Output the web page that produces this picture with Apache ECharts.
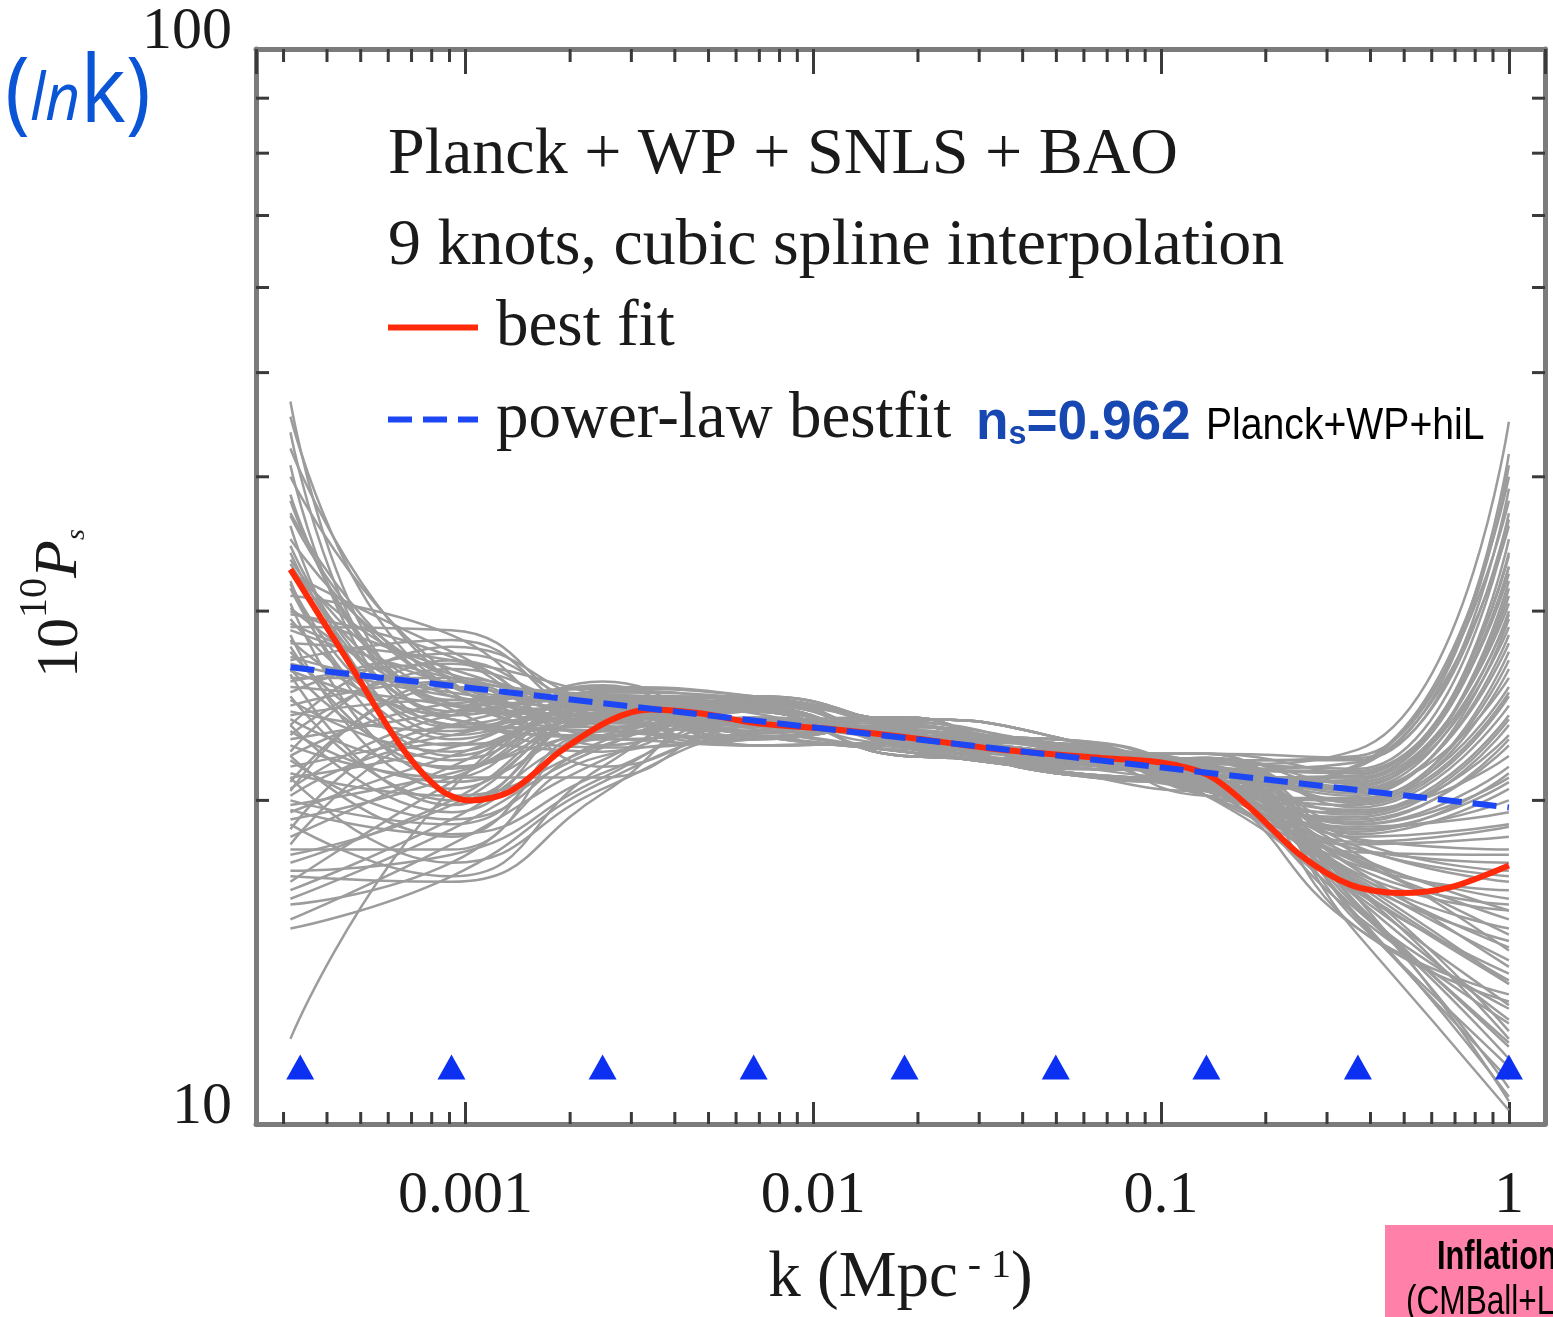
<!DOCTYPE html>
<html>
<head>
<meta charset="utf-8">
<title>Primordial power spectrum, 9 knots</title>
<script src="https://cdn.jsdelivr.net/npm/echarts@6/dist/echarts.min.js"></script>
<style>
  html, body { margin: 0; padding: 0; background: #fff; }
  #chart { width: 1553px; height: 1317px; }
</style>
</head>
<body>
<div id="chart"></div>
<script>
// knots at k = e^-8 ... e^0 (Mpc^-1)
const knotK = [3.35e-4, 9.12e-4, 2.48e-3, 6.74e-3, 1.83e-2, 4.98e-2, 0.135, 0.368, 1.0];
// the sample curves start a little left of the first knot
const curveK = [3.14e-4, 9.12e-4, 2.48e-3, 6.74e-3, 1.83e-2, 4.98e-2, 0.135, 0.368, 1.0];
const knotMarkerP = 11.3;

// 10^10 P_s of the grey samples, read at the knots
const sampleCurves = [
  [47, 24.5, 24.8, 24.6, 23.6, 22.4, 21.6, 19.5, 24],
  [45.5, 25.5, 24.2, 23.0, 22.2, 21.3, 20.4, 16.5, 13.5],
  [44, 24.0, 25.2, 24.9, 23.0, 22.8, 21.0, 20.5, 30],
  [42.5, 25.8, 23.6, 23.5, 23.9, 21.6, 21.9, 16.2, 12.5],
  [41, 23.5, 24.6, 22.5, 22.6, 22.2, 20.6, 21.5, 36],
  [40, 26.2, 24.0, 24.2, 22.0, 21.8, 21.4, 18.0, 17.5],
  [38.5, 24.8, 25.4, 25.0, 23.3, 21.2, 20.8, 19.0, 21],
  [37, 25.2, 23.4, 23.8, 22.9, 22.6, 20.2, 15.8, 11.5],
  [36, 23.0, 24.3, 22.8, 23.5, 22.0, 21.8, 22.0, 42],
  [35, 26.0, 24.7, 24.4, 22.4, 21.5, 21.2, 18.5, 19],
  [34, 24.2, 25.0, 23.2, 23.8, 22.9, 20.5, 17.5, 15.5],
  [33.5, 25.0, 24.0, 24.7, 22.8, 22.1, 22.1, 21.2, 33],
  [32.5, 27.5, 24.0, 24.6, 23.6, 22.4, 21.6, 20.0, 27],
  [32, 22.0, 24.5, 23.0, 22.2, 21.3, 20.4, 16.8, 13.5],
  [31, 28.5, 23.6, 24.9, 23.0, 22.8, 21.0, 21.0, 33],
  [30.5, 21.0, 24.8, 23.5, 23.9, 21.6, 21.9, 17.3, 16],
  [30, 26.5, 24.2, 22.5, 22.6, 22.2, 20.6, 19.8, 25],
  [29.5, 23.5, 23.0, 24.2, 22.0, 21.8, 21.4, 16.0, 10.8],
  [29, 28.8, 24.5, 25.0, 23.3, 21.2, 20.8, 20.8, 31],
  [28.5, 20.5, 23.8, 23.8, 22.9, 22.6, 20.2, 18.2, 18.5],
  [28, 27.0, 25.0, 22.8, 23.5, 22.0, 21.8, 21.8, 39],
  [27.5, 22.5, 24.0, 24.4, 22.4, 21.5, 21.2, 15.2, 13],
  [27, 28.2, 23.8, 23.2, 23.8, 22.9, 20.5, 19.2, 22.5],
  [26.5, 21.8, 24.6, 24.7, 22.8, 22.1, 22.1, 15.5, 11],
  [26, 26.0, 24.4, 24.6, 23.6, 22.4, 21.6, 20.3, 28.5],
  [25.5, 24.5, 22.8, 23.0, 22.2, 21.3, 20.4, 18.8, 20],
  [25, 20.0, 24.2, 24.9, 23.0, 22.8, 21.0, 17.8, 14.5],
  [24.5, 25.8, 21.5, 23.5, 23.9, 21.6, 21.9, 20.5, 26],
  [24, 24.8, 23.5, 22.5, 22.6, 22.2, 20.6, 16.5, 12],
  [23.5, 19.5, 24.0, 24.2, 22.0, 21.8, 21.4, 21.2, 34],
  [23, 26.5, 24.6, 25.0, 23.3, 21.2, 20.8, 17.6, 15],
  [22.5, 21.0, 21.0, 23.8, 22.9, 22.6, 20.2, 19.5, 23],
  [22, 18.5, 23.2, 22.8, 23.5, 22.0, 21.8, 16.2, 10.5],
  [21.5, 23.0, 24.3, 24.4, 22.4, 21.5, 21.2, 20.2, 29.5],
  [21, 17.5, 20.5, 23.2, 23.8, 22.9, 20.5, 18.0, 17],
  [20.5, 24.0, 24.8, 24.7, 22.8, 22.1, 22.1, 19.0, 21.5],
  [20, 19.0, 23.5, 24.6, 23.6, 22.4, 21.6, 15.0, 10.3],
  [19.5, 22.0, 24.0, 23.0, 22.2, 21.3, 20.4, 21.5, 38],
  [19, 17.0, 21.5, 24.9, 23.0, 22.8, 21.0, 17.2, 14],
  [18.5, 21.5, 24.4, 23.5, 23.9, 21.6, 21.9, 19.7, 24.5],
  [18, 18.0, 22.8, 22.5, 22.6, 22.2, 20.6, 15.2, 13.2],
  [17.5, 20.0, 24.0, 24.2, 22.0, 21.8, 21.4, 20.6, 32],
  [17, 16.8, 20.3, 25.0, 23.3, 21.2, 20.8, 18.4, 18],
  [16.5, 19.2, 23.0, 23.8, 22.9, 22.6, 20.2, 19.3, 23.5],
  [16, 17.5, 22.0, 22.8, 23.5, 22.0, 21.8, 15.8, 12.8],
  [15.5, 18.2, 21.8, 24.4, 22.4, 21.5, 21.2, 16.8, 14.8],
  [15.2, 17.0, 20.8, 23.2, 23.8, 22.9, 20.5, 20.0, 27.5],
  [12, 20.5, 24.2, 24.7, 22.8, 22.1, 22.1, 18.6, 20.5],
  [26.8, 25.0, 24.0, 24.6, 23.6, 22.4, 21.6, 22.3, 45],
  [23.5, 27.8, 24.5, 23.0, 22.2, 21.3, 20.4, 17.4, 16.5],
  [31.5, 22.8, 24.9, 24.9, 23.0, 22.8, 21.0, 21.0, 35],
  [20.8, 25.5, 23.8, 23.5, 23.9, 21.6, 21.9, 16.0, 11.8],
  [28.2, 24.0, 25.6, 22.5, 22.6, 22.2, 20.6, 21.6, 40],
  [25.8, 26.8, 22.5, 24.2, 22.0, 21.8, 21.4, 17.0, 15.2],
  [22.8, 24.2, 25.5, 25.0, 23.3, 21.2, 20.8, 20.9, 30.5],
  [19.8, 21.2, 23.2, 23.8, 22.9, 22.6, 20.2, 16.6, 12.2],
  [34.5, 23.8, 23.2, 22.8, 23.5, 22.0, 21.8, 19.9, 26.5],
  [29.8, 27.2, 23.0, 24.4, 22.4, 21.5, 21.2, 15.6, 10.6],
  [24.2, 23.2, 25.8, 23.2, 23.8, 22.9, 20.5, 18.9, 19.5],
  [18.2, 23.5, 24.5, 24.7, 22.8, 22.1, 22.1, 21.9, 37],
  [21.2, 20.2, 22.5, 24.6, 23.6, 22.4, 21.6, 18.1, 16.8],
  [27.2, 25.2, 24.6, 23.0, 22.2, 21.3, 20.4, 17.9, 17.8],
  [32.8, 26.2, 25.1, 24.9, 23.0, 22.8, 21.0, 19.6, 22],
  [23.8, 21.5, 23.6, 23.5, 23.9, 21.6, 21.9, 20.7, 29],
  [16.8, 20.8, 24.6, 22.5, 22.6, 22.2, 20.6, 17.7, 15.8],
  [38, 24.6, 24.0, 24.2, 22.0, 21.8, 21.4, 21.3, 32.5],
  [20.2, 22.6, 22.2, 25.0, 23.3, 21.2, 20.8, 16.4, 13.8],
  [26.2, 19.8, 23.9, 23.8, 22.9, 22.6, 20.2, 20.1, 25.5],
  [30.2, 24.3, 22.4, 22.8, 23.5, 22.0, 21.8, 18.3, 17.2],
  [22.2, 27.0, 24.1, 24.4, 22.4, 21.5, 21.2, 15.4, 11.3],
  [31.8, 23.4, 24.3, 23.6, 23.2, 22.3, 20.9, 18.7, 21.2],
  [29.2, 25.6, 23.7, 24.3, 22.5, 21.7, 21.5, 20.4, 28],
  [27.8, 21.4, 24.9, 23.1, 23.4, 22.5, 20.7, 16.9, 14.2],
  [26.4, 23.8, 22.9, 24.8, 22.7, 22.0, 21.7, 21.4, 36.5],
  [25.2, 27.4, 24.3, 23.4, 23.1, 21.4, 21.3, 17.1, 15.8],
  [24.8, 22.2, 25.3, 24.5, 22.3, 22.3, 20.8, 19.4, 23.8],
  [23.2, 20.8, 23.3, 23.7, 23.7, 21.9, 21.5, 15.9, 11.9],
  [22.0, 24.6, 25.0, 24.1, 22.6, 22.6, 20.9, 20.6, 31.5],
  [21.8, 19.2, 22.7, 24.8, 23.2, 21.7, 21.1, 18.3, 18.9],
  [21.0, 22.4, 24.7, 22.9, 23.4, 22.4, 21.6, 16.7, 13.6],
  [20.4, 25.8, 23.4, 24.3, 22.6, 21.6, 21.0, 21.1, 33.8],
  [19.6, 18.6, 21.2, 23.6, 23.3, 22.5, 20.8, 17.6, 16.2],
  [19.2, 21.0, 24.1, 24.6, 22.7, 21.9, 21.7, 19.9, 25.2],
  [18.8, 23.4, 23.2, 23.4, 23.6, 22.3, 20.6, 15.6, 12.4],
  [17.8, 19.8, 23.9, 24.2, 22.5, 21.7, 21.3, 20.8, 29.8],
  [17.2, 17.8, 21.0, 23.9, 23.2, 22.6, 21.0, 17.0, 14.6],
  [16.2, 18.8, 22.4, 24.5, 22.9, 21.6, 21.5, 18.8, 20.8],
  [28.8, 26.0, 24.9, 23.3, 22.4, 22.2, 20.7, 19.1, 22.8],
  [33.2, 24.6, 23.8, 24.8, 23.4, 21.9, 21.4, 21.7, 41],
  [36.8, 25.6, 24.6, 23.7, 22.8, 22.5, 20.9, 16.3, 12.9]
];

// best fit (red)
const bestFitK = [3.14e-4, 4.68e-4, 6.50e-4, 8.48e-4, 1.03e-3, 1.35e-3, 1.87e-3, 2.61e-3, 3.40e-3,
  4.73e-3, 6.81e-3, 1.12e-2, 1.85e-2, 3.44e-2, 6.68e-2, 9.93e-2, 0.137, 0.180, 0.251, 0.349,
  0.486, 0.676, 1.0];
const bestFitP = [32.8, 26.7, 22.5, 20.45, 20.0, 20.4, 22.2, 23.75, 24.3,
  24.1, 23.6, 23.3, 22.9, 22.3, 21.9, 21.7, 21.1, 19.7, 17.8, 16.7,
  16.4, 16.6, 17.4];

// power-law best fit (blue dashed), n_s = 0.962
const powerLawK = [3.14e-4, 1.0];
const powerLawP = [26.6, 19.7];

const xRange = [2.5e-4, 1.27];
const yRange = [10, 100];
const xMinorTicks = [3e-4, 4e-4, 5e-4, 6e-4, 7e-4, 8e-4, 9e-4,
  2e-3, 3e-3, 4e-3, 5e-3, 6e-3, 7e-3, 8e-3, 9e-3,
  2e-2, 3e-2, 4e-2, 5e-2, 6e-2, 7e-2, 8e-2, 9e-2,
  0.2, 0.3, 0.4, 0.5, 0.6, 0.7, 0.8, 0.9];
const yMinorTicks = [20, 30, 40, 50, 60, 70, 80, 90];

const serif = 'Liberation Serif, Times New Roman, serif';
const sans = 'Liberation Sans, Arial, sans-serif';
const frameColor = '#7b7b7b';
const tickColor = '#3a3a3a';
const grey = '#9c9c9c';
const red = '#ff2a0a';
const blue = '#1d46f5';

const chart = echarts.init(document.getElementById('chart'));

const series = [];
sampleCurves.forEach((c, i) => {
  series.push({
    type: 'line',
    name: 'sample' + i,
    data: curveK.map((k, j) => [k, c[j]]),
    smooth: 0.5,
    symbol: 'none',
    silent: true,
    lineStyle: { color: grey, width: 2.5 },
    z: 2
  });
});

series.push({
  type: 'line',
  name: 'best fit',
  data: bestFitK.map((k, i) => [k, bestFitP[i]]),
  smooth: 0.3,
  symbol: 'none',
  lineStyle: { color: red, width: 6 },
  itemStyle: { color: red },
  z: 3
});

series.push({
  type: 'line',
  name: 'power-law bestfit',
  data: powerLawK.map((k, i) => [k, powerLawP[i]]),
  symbol: 'none',
  lineStyle: { color: blue, width: 6, type: [24, 11] },
  itemStyle: { color: blue },
  z: 4
});

series.push({
  type: 'scatter',
  data: knotK.map(k => [k, knotMarkerP]),
  symbol: 'triangle',
  symbolSize: [28, 25],
  itemStyle: { color: '#0b30f2', opacity: 1 },
  silent: true,
  z: 5
});

// minor ticks on the four sides of the frame
const tickSeries = (data, size, offset) => ({
  type: 'scatter',
  data: data,
  symbol: 'rect',
  symbolSize: size,
  symbolOffset: offset,
  itemStyle: { color: tickColor, opacity: 1 },
  clip: false,
  silent: true,
  z: 6
});
series.push(tickSeries(xMinorTicks.map(k => [k, yRange[0]]), [3, 12], [0, -6]));
series.push(tickSeries(xMinorTicks.map(k => [k, yRange[1]]), [3, 13], [0, 6.5]));
series.push(tickSeries(yMinorTicks.map(v => [xRange[0], v]), [13, 3], [6.5, 0]));
series.push(tickSeries(yMinorTicks.map(v => [xRange[1], v]), [13, 3], [-6.5, 0]));

const option = {
  animation: false,
  backgroundColor: '#fff',
  grid: { left: 256, right: 8, top: 49, bottom: 193 },
  legend: {
    data: ['best fit', 'power-law bestfit'],
    orient: 'vertical',
    left: 380,
    top: 290,
    itemWidth: 90,
    itemHeight: 20,
    itemGap: 27,
    selectedMode: false,
    itemStyle: { opacity: 0 },
    lineStyle: { width: 6 },
    textStyle: { fontFamily: serif, fontSize: 65, color: '#1a1a1a', lineHeight: 64, padding: [0, 0, 0, 13] }
  },
  xAxis: [
    {
      type: 'log',
      min: xRange[0],
      max: xRange[1],
      axisLine: { onZero: false, lineStyle: { color: frameColor, width: 5 } },
      axisTick: { inside: true, length: 22, lineStyle: { color: tickColor, width: 3 } },
      axisLabel: {
        fontFamily: serif, fontSize: 60, color: '#1a1a1a', margin: 42,
        showMinLabel: false, showMaxLabel: false
      },
      splitLine: { show: false },
      name: '{a|k (Mpc}{b| - 1}{a|)}',
      nameLocation: 'middle',
      nameGap: 122,
      nameTextStyle: {
        rich: {
          a: { fontFamily: serif, fontSize: 65, color: '#1a1a1a', verticalAlign: 'bottom' },
          b: { fontFamily: serif, fontSize: 40, color: '#1a1a1a', verticalAlign: 'top' }
        }
      }
    },
    {
      type: 'log',
      position: 'top',
      min: xRange[0],
      max: xRange[1],
      axisLine: { onZero: false, lineStyle: { color: frameColor, width: 5 } },
      axisTick: { inside: true, length: 25, lineStyle: { color: tickColor, width: 3 } },
      axisLabel: { show: false },
      splitLine: { show: false }
    }
  ],
  yAxis: [
    {
      type: 'log',
      min: yRange[0],
      max: yRange[1],
      axisLine: { lineStyle: { color: frameColor, width: 5 } },
      axisTick: { show: false },
      axisLabel: {
        fontFamily: serif, fontSize: 60, color: '#1a1a1a', margin: 24,
        verticalAlign: 'bottom', lineHeight: 34
      },
      splitLine: { show: false },
      name: '{a|10}{b|10}{c|P}{d|s}',
      nameLocation: 'middle',
      nameRotate: 90,
      nameGap: 165,
      nameTextStyle: {
        padding: [0, 34, 0, 0],
        rich: {
          a: { fontFamily: serif, fontSize: 60, color: '#1a1a1a', verticalAlign: 'bottom', padding: [14, 0, 0, 0] },
          b: { fontFamily: serif, fontSize: 40, color: '#1a1a1a', verticalAlign: 'top' },
          c: { fontFamily: serif, fontSize: 62, fontStyle: 'italic', color: '#1a1a1a', verticalAlign: 'bottom', padding: [14, 0, 0, 0] },
          d: { fontFamily: serif, fontSize: 28, fontStyle: 'italic', color: '#1a1a1a', verticalAlign: 'bottom' }
        }
      }
    },
    {
      type: 'log',
      position: 'right',
      min: yRange[0],
      max: yRange[1],
      axisLine: { lineStyle: { color: frameColor, width: 5 } },
      axisTick: { show: false },
      axisLabel: { show: false },
      splitLine: { show: false }
    }
  ],
  graphic: [
    {
      type: 'text', x: 5, y: 142, scaleX: 0.92, silent: true,
      style: {
        text: '{p|(}{i|ln}{k|k}{p|)}',
        verticalAlign: 'bottom',
        rich: {
          p: { fontFamily: 'Open Sans', fontSize: 92, fill: '#0a55d6', color: '#0a55d6', verticalAlign: 'bottom' },
          i: { fontFamily: 'Open Sans', fontSize: 66, fontStyle: 'italic', fill: '#0a55d6', color: '#0a55d6', verticalAlign: 'bottom', padding: [0, 0, 8, 0] },
          k: { fontFamily: 'Open Sans', fontSize: 94, fill: '#0a55d6', color: '#0a55d6', verticalAlign: 'bottom' }
        }
      }
    },
    {
      type: 'text', x: 388, y: 156, silent: true,
      style: { text: 'Planck + WP + SNLS + BAO', fontFamily: serif, fontSize: 66, fill: '#1a1a1a', verticalAlign: 'middle' }
    },
    {
      type: 'text', x: 388, y: 247, silent: true,
      style: { text: '9 knots, cubic spline interpolation', fontFamily: serif, fontSize: 66, fill: '#1a1a1a', verticalAlign: 'middle' }
    },
    {
      type: 'text', x: 976, y: 424, scaleX: 0.95, silent: true,
      style: {
        text: '{b|n}{s|s}{b|=0.962}',
        verticalAlign: 'middle',
        rich: {
          b: { fontFamily: sans, fontSize: 56, fontWeight: 'bold', fill: '#1747b0', color: '#1747b0', verticalAlign: 'bottom' },
          s: { fontFamily: sans, fontSize: 34, fontWeight: 'bold', fill: '#1747b0', color: '#1747b0', verticalAlign: 'bottom' }
        }
      }
    },
    {
      type: 'text', x: 1206, y: 427, scaleX: 0.87, silent: true,
      style: { text: 'Planck+WP+hiL', fontFamily: sans, fontSize: 45, fill: '#000', verticalAlign: 'middle' }
    },
    {
      type: 'rect', silent: true,
      shape: { x: 1385, y: 1225, width: 200, height: 110 },
      style: { fill: '#ff80a8' }
    },
    {
      type: 'text', x: 1437, y: 1258, scaleX: 0.77, silent: true,
      style: { text: 'Inflation', fontFamily: sans, fontSize: 40, fontWeight: 'bold', fill: '#000', verticalAlign: 'middle' }
    },
    {
      type: 'text', x: 1406, y: 1303, scaleX: 0.79, silent: true,
      style: { text: '(CMBall+LSS)', fontFamily: sans, fontSize: 40, fill: '#000', verticalAlign: 'middle' }
    }
  ],
  series: series
};

chart.setOption(option);
</script>
</body>
</html>
